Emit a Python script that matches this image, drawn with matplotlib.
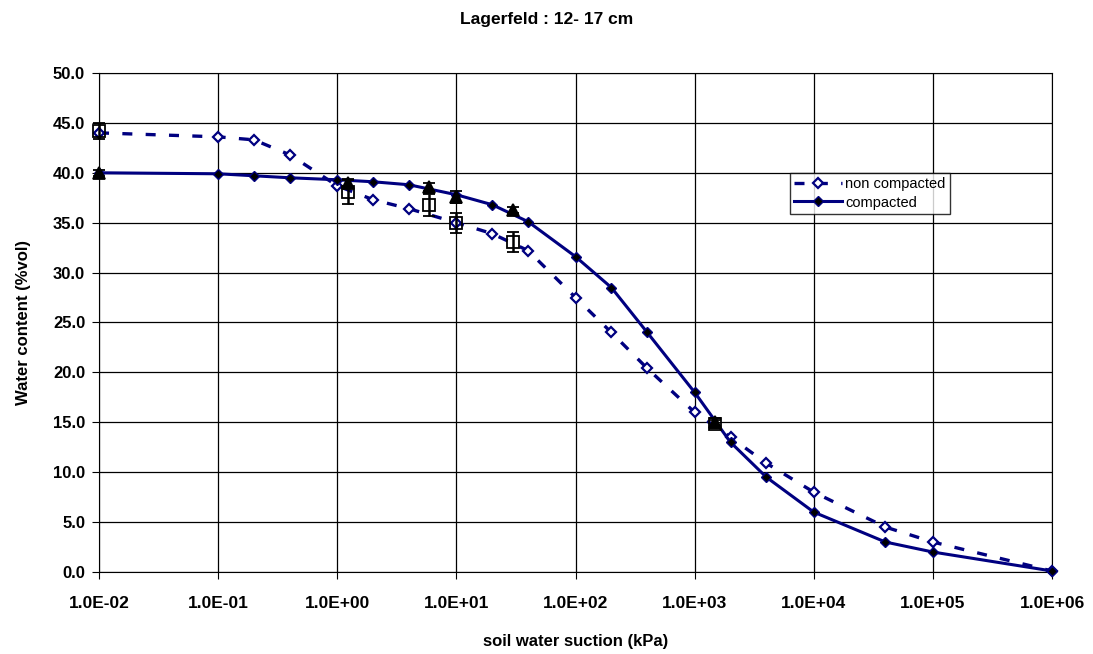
import matplotlib.pyplot as plt
import matplotlib.ticker as mticker

plt.rcParams['font.family'] = ['Liberation Sans', 'DejaVu Sans']
plt.rcParams['font.weight'] = 'bold'

# suction (kPa) for the fitted curves
suction = [0.01, 0.1, 0.2, 0.4, 1, 2, 4, 10, 20, 40, 100, 200, 400,
           1000, 2000, 4000, 10000, 40000, 100000, 1000000]
non_compacted = [44.0, 43.6, 43.3, 41.8, 38.7, 37.3, 36.4, 35.0, 33.9, 32.2,
                 27.5, 24.0, 20.4, 16.0, 13.5, 10.9, 8.0, 4.5, 3.0, 0.1]
compacted = [40.0, 39.9, 39.7, 39.5, 39.3, 39.1, 38.8, 37.8, 36.8, 35.1,
             31.6, 28.5, 24.0, 18.0, 13.0, 9.5, 6.0, 3.0, 2.0, 0.1]

# measured points with standard deviation
meas_suction = [0.01, 1.23, 5.9, 10, 30, 1480]
meas_non = [44.2, 38.1, 36.8, 35.0, 33.1, 14.8]
meas_non_err = [0.8, 1.2, 1.1, 1.0, 1.0, 0.4]
meas_comp = [40.0, 39.0, 38.6, 37.6, 36.3, 15.0]
meas_comp_err = [0.3, 0.4, 0.4, 0.6, 0.3, 0.4]

xticks = [1e-2, 1e-1, 1e0, 1e1, 1e2, 1e3, 1e4, 1e5, 1e6]

navy = '#000080'

fig = plt.figure(figsize=(10.93, 6.54), dpi=100)
ax = fig.add_axes([0.0906, 0.1254, 0.8719, 0.763])

ax.plot(suction, non_compacted, color=navy, ls=(0, (3, 4)), lw=2.4,
        marker='D', ms=5.5, mfc='white', mec=navy, mew=1.6,
        label='non compacted', zorder=3, clip_on=False)
ax.plot(suction, compacted, color=navy, ls='-', lw=2.2,
        marker='D', ms=5.5, mfc='black', mec=navy,
        label='compacted', zorder=3, clip_on=False)

# measured means drawn over the curves
for yv, err, mk, fc in [(meas_non, meas_non_err, 's', 'none'),
                        (meas_comp, meas_comp_err, '^', 'black')]:
    eb = ax.errorbar(meas_suction, yv, yerr=err, fmt=mk, mfc=fc, mec='black',
                     ecolor='black', ms=8, mew=1.3, capsize=4,
                     elinewidth=1.8, capthick=2, zorder=5)
    parts = [eb.lines[0]] + list(eb.lines[1]) + list(eb.lines[2])
    for art in parts:
        art.set_clip_on(False)

ax.set_xscale('log')
ax.set_xlim(0.01, 1e6)
ax.set_ylim(0, 50)
ax.set_xticks(xticks)
ax.set_xticklabels(['{:.1E}'.format(v) for v in xticks])
ax.xaxis.set_minor_locator(mticker.NullLocator())
ax.yaxis.set_major_locator(mticker.MultipleLocator(5))
ax.yaxis.set_major_formatter(mticker.FormatStrFormatter('%.1f'))
ax.grid(True, color='black', lw=0.9)
ax.set_axisbelow(True)
for s in ax.spines.values():
    s.set_color('black')
ax.tick_params(axis='y', labelsize=12, length=5, pad=5)
ax.tick_params(axis='x', labelsize=12.5, length=5, pad=12)

ax.set_xlabel('soil water suction (kPa)', fontsize=12, fontweight='bold', labelpad=17)
ax.set_ylabel('Water content (%vol)', fontsize=12, fontweight='bold', labelpad=16)
fig.suptitle('Lagerfeld : 12- 17 cm', fontsize=12.5, fontweight='bold', y=0.982)

leg = ax.legend(loc='upper left', bbox_to_anchor=(0.725, 0.8), fontsize=10.5,
                frameon=True, fancybox=False, borderpad=0.3, labelspacing=0.3,
                handlelength=3.3, handletextpad=0.2, borderaxespad=0)
leg.get_frame().set_edgecolor('black')
leg.get_frame().set_linewidth(1)
for t in leg.get_texts():
    t.set_fontweight('normal')

fig.savefig('out.png', dpi=100)
